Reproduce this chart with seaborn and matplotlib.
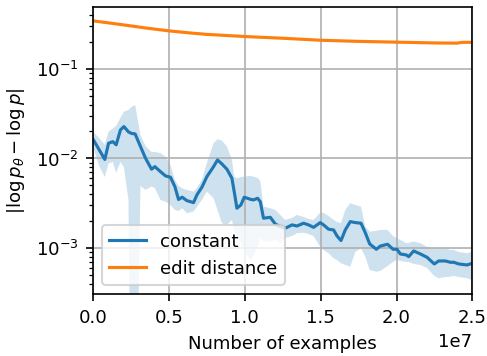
import numpy as np
import pandas as pd
import matplotlib
matplotlib.use("Agg")
import matplotlib.pyplot as plt
import seaborn as sns

plt.rcParams["font.size"] = 8.7

# Training progress, in millions of examples
steps_m = [0.0, 0.40, 0.77, 1.02, 1.30, 1.52, 1.80, 2.03, 2.33, 2.54,
           2.77, 3.12, 3.45, 3.85, 4.07, 4.44, 4.77, 5.10, 5.39, 5.63,
           5.87, 6.18, 6.62, 6.84, 7.17, 7.50, 7.94, 8.20, 8.49, 8.82,
           9.15, 9.30, 9.48, 9.74, 9.96, 10.36, 10.57, 10.84, 11.02, 11.23,
           11.68, 12.01, 12.34, 12.66, 13.11, 13.44, 13.87, 14.20, 14.53, 14.97,
           15.19, 15.52, 15.85, 16.08, 16.34, 16.62, 16.95, 17.28, 17.66, 17.94,
           18.23, 18.67, 18.93, 19.41, 19.77, 20.03, 20.25, 20.65, 20.80, 21.13,
           21.57, 22.01, 22.49, 22.78, 23.22, 23.55, 23.77, 24.10, 24.65, 25.0]

# "constant" baseline: mean error and its spread
const_mean = [0.0163, 0.0125, 0.00975, 0.0148, 0.0154, 0.0142, 0.0208, 0.0227, 0.0198, 0.0190,
              0.0188, 0.0136, 0.0101, 0.00758, 0.00810, 0.00712, 0.00638, 0.00617, 0.00484, 0.00348,
              0.00369, 0.00338, 0.00321, 0.00391, 0.00477, 0.00626, 0.00810, 0.00962, 0.00868, 0.00758,
              0.00601, 0.00426, 0.00278, 0.00302, 0.00369, 0.00350, 0.00344, 0.00359, 0.00329, 0.00215,
              0.00220, 0.00185, 0.00173, 0.00166, 0.00181, 0.00176, 0.00189, 0.00181, 0.00170, 0.00192,
              0.00181, 0.00162, 0.00159, 0.00136, 0.00121, 0.00159, 0.00197, 0.00192, 0.00189, 0.00148,
              0.00111, 0.000967, 0.00105, 0.00110, 0.000967, 0.000967, 0.000857, 0.000835, 0.000800, 0.000926,
              0.000857, 0.000787, 0.000663, 0.000716, 0.000716, 0.000692, 0.000692, 0.000663, 0.000646, 0.000675]

const_upper = [0.0198, 0.0170, 0.0142, 0.0199, 0.0216, 0.0231, 0.0284, 0.0333, 0.0348, 0.0376,
               0.0396, 0.0183, 0.0138, 0.0118, 0.0118, 0.0115, 0.0104, 0.00846, 0.00575, 0.00493,
               0.00465, 0.00445, 0.00426, 0.00468, 0.00575, 0.00891, 0.0148, 0.0164, 0.0158, 0.0136,
               0.00962, 0.00626, 0.00601, 0.00621, 0.00626, 0.00638, 0.00626, 0.00606, 0.00561, 0.00289,
               0.00278, 0.00266, 0.00234, 0.00206, 0.00216, 0.00234, 0.00222, 0.00211, 0.00206, 0.00248,
               0.00246, 0.00228, 0.00206, 0.00195, 0.00189, 0.00266, 0.00316, 0.00302, 0.00289, 0.00173,
               0.00152, 0.00155, 0.00159, 0.00159, 0.00136, 0.00128, 0.00123, 0.00113, 0.00114, 0.00118,
               0.00113, 0.00103, 0.000992, 0.000992, 0.000992, 0.000950, 0.000950, 0.000902, 0.000873, 0.000909]

const_lower = [0.0134, 0.00825, 0.00621, 0.00879, 0.00914, 0.00689, 0.00914, 0.00800, 0.00344, 1e-6,
               1e-6, 0.00493, 0.00445, 0.00484, 0.00468, 0.00344, 0.00329, 0.00302, 0.00266, 0.00259,
               0.00278, 0.00244, 0.00255, 0.00287, 0.00344, 0.00426, 0.00359, 0.00266, 0.00189, 0.00181,
               0.00206, 0.00159, 0.00134, 0.00117, 0.000926, 0.000734, 0.000814, 0.00103, 0.00129, 0.00120,
               0.00118, 0.00123, 0.00113, 0.00129, 0.00136, 0.00146, 0.00148, 0.00143, 0.00136, 0.00103,
               0.000950, 0.000873, 0.000767, 0.000734, 0.000675, 0.000646, 0.000618, 0.000902, 0.000992, 0.000800,
               0.000568, 0.000543, 0.000553, 0.000629, 0.000698, 0.000734, 0.000716, 0.000698, 0.000698, 0.000663,
               0.000646, 0.000598, 0.000487, 0.000459, 0.000474, 0.000478, 0.000487, 0.000474, 0.000459, 0.000439]

# "edit distance" baseline
edit_steps_m = [0.0, 1.3, 2.5, 3.5, 5.0, 6.4, 7.5, 10.0, 12.5, 15.0, 17.5, 20.0, 22.5, 24.0, 24.3, 25.0]
edit_mean = [0.344, 0.322, 0.302, 0.286, 0.266, 0.252, 0.243, 0.230, 0.220, 0.209,
             0.203, 0.199, 0.195, 0.194, 0.198, 0.198]

const_df = pd.DataFrame({
    "examples": np.array(steps_m) * 1e6,
    "err": const_mean,
    "lo": const_lower,
    "hi": const_upper,
})
edit_df = pd.DataFrame({
    "examples": np.array(edit_steps_m) * 1e6,
    "err": edit_mean,
})

blue, orange = sns.color_palette("tab10")[:2]

fig = plt.figure(figsize=(3.25, 2.375), dpi=150)
ax = fig.add_axes([0.191, 0.174, 0.778, 0.806])

ax.fill_between(const_df["examples"], const_df["lo"], const_df["hi"],
                color=blue, alpha=0.22, linewidth=0)
sns.lineplot(data=const_df, x="examples", y="err", color=blue,
             label="constant", ax=ax, linewidth=1.5)

ax.fill_between(edit_df["examples"], edit_df["err"] * 0.985, edit_df["err"] * 1.015,
                color=orange, alpha=0.22, linewidth=0)
sns.lineplot(data=edit_df, x="examples", y="err", color=orange,
             label="edit distance", ax=ax, linewidth=1.5)

ax.set_yscale("log")
ax.set_xlim(0, 2.5e7)
ax.set_ylim(3.06e-4, 0.493)
ax.grid(True, which="major", color="#b0b0b0", linewidth=0.8)
ax.set_xlabel("Number of examples")
ax.set_ylabel(r"$|\log p_\theta - \log p|$")
ax.legend(loc="lower left")

fig.savefig("out.png", dpi=150)
